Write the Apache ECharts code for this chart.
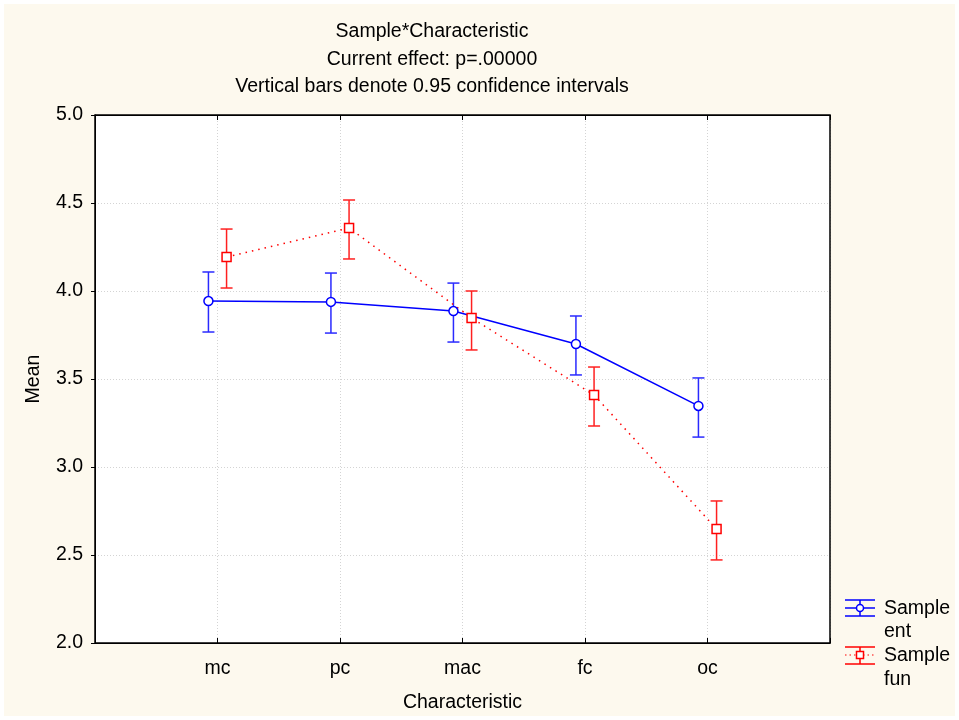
<!DOCTYPE html>
<html>
<head>
<meta charset="utf-8">
<script src="https://cdn.jsdelivr.net/npm/echarts@6/dist/echarts.min.js"></script>
<style>
  html, body { margin: 0; padding: 0; background: #ffffff; }
  #chart { width: 959px; height: 720px; }
</style>
</head>
<body>
<div id="chart"></div>
<script>
// categories on the x axis
const categories = ['mc', 'pc', 'mac', 'fc', 'oc'];
const yTicks = [2.0, 2.5, 3.0, 3.5, 4.0, 4.5, 5.0];

// Sample ent
const entMean = [3.943, 3.938, 3.886, 3.699, 3.347];
const entLow  = [3.767, 3.761, 3.710, 3.523, 3.170];
const entHigh = [4.108, 4.102, 4.045, 3.858, 3.506];

// Sample fun
const funMean = [4.193, 4.358, 3.847, 3.409, 2.648];
const funLow  = [4.017, 4.182, 3.665, 3.233, 2.472];
const funHigh = [4.352, 4.517, 4.000, 3.568, 2.807];

const shift = 0.074; // small horizontal dodge between the two samples

const font = 'Liberation Sans, Arial, sans-serif';
const fs = 19.5;

function pts(mean, dx) {
  return mean.map((v, i) => [i + 1 + dx, v]);
}
function bars(low, high, dx) {
  return low.map((v, i) => [i + 1 + dx, v, high[i]]);
}

function errorBar(color) {
  return function (params, api) {
    const x = api.value(0);
    const lo = api.coord([x, api.value(1)]);
    const hi = api.coord([x, api.value(2)]);
    const w = 6;
    const st = { stroke: color, lineWidth: 1.5 };
    return {
      type: 'group',
      children: [
        { type: 'line', shape: { x1: lo[0], y1: lo[1], x2: hi[0], y2: hi[1] }, style: st },
        { type: 'line', shape: { x1: lo[0] - w, y1: lo[1], x2: lo[0] + w, y2: lo[1] }, style: st },
        { type: 'line', shape: { x1: hi[0] - w, y1: hi[1], x2: hi[0] + w, y2: hi[1] }, style: st }
      ]
    };
  };
}

const txt = (x, y, s) => ({ type: 'text', style: { x: x, y: y, text: s, font: fs + 'px ' + font, fill: '#000', verticalAlign: 'middle' } });

let myChart = echarts.init(document.getElementById('chart'));
let option = {
  backgroundColor: '#ffffff',
  animation: false,
  graphic: [
    { type: 'rect', z: -10, shape: { x: 4, y: 4, width: 951, height: 712 }, style: { fill: '#fdf9ee' } },
    { type: 'rect', z: -9, shape: { x: 95, y: 115, width: 735, height: 528 }, style: { fill: '#ffffff' } },
    { type: 'rect', z: 50, shape: { x: 95, y: 115, width: 735, height: 528 }, style: { fill: null, stroke: '#000', lineWidth: 1.5 } },
    // legend: Sample ent
    { type: 'line', shape: { x1: 845, y1: 600, x2: 875, y2: 600 }, style: { stroke: '#0000ff', lineWidth: 1.5 } },
    { type: 'line', shape: { x1: 845, y1: 608, x2: 875, y2: 608 }, style: { stroke: '#0000ff', lineWidth: 1.5 } },
    { type: 'line', shape: { x1: 845, y1: 616, x2: 875, y2: 616 }, style: { stroke: '#0000ff', lineWidth: 1.5 } },
    { type: 'line', shape: { x1: 860, y1: 600, x2: 860, y2: 616 }, style: { stroke: '#0000ff', lineWidth: 1.5 } },
    { type: 'circle', shape: { cx: 860, cy: 608, r: 3.5 }, style: { fill: '#ffffff', stroke: '#0000ff', lineWidth: 1.5 } },
    txt(884, 609, 'Sample'),
    txt(884, 632, 'ent'),
    // legend: Sample fun
    { type: 'line', shape: { x1: 845, y1: 647, x2: 875, y2: 647 }, style: { stroke: '#ff0000', lineWidth: 1.5 } },
    { type: 'line', shape: { x1: 845, y1: 655, x2: 875, y2: 655 }, style: { stroke: '#ff0000', lineWidth: 1.2, lineDash: [1.5, 3] } },
    { type: 'line', shape: { x1: 845, y1: 664, x2: 875, y2: 664 }, style: { stroke: '#ff0000', lineWidth: 1.5 } },
    { type: 'line', shape: { x1: 860, y1: 647, x2: 860, y2: 664 }, style: { stroke: '#ff0000', lineWidth: 1.5 } },
    { type: 'rect', shape: { x: 856.5, y: 651.5, width: 7, height: 7 }, style: { fill: '#ffffff', stroke: '#ff0000', lineWidth: 1.5 } },
    txt(884, 656, 'Sample'),
    txt(884, 680, 'fun')
  ],
  title: {
    text: 'Sample*Characteristic\nCurrent effect: p=.00000\nVertical bars denote 0.95 confidence intervals',
    left: 427,
    top: 13,
    textAlign: 'center',
    textStyle: { fontFamily: font, fontSize: fs, fontWeight: 'normal', color: '#000', lineHeight: 27.5 }
  },
  grid: { left: 95, right: 129, top: 115, bottom: 77, show: false, outerBoundsMode: 'none', containLabel: false },
  xAxis: [
    {
      type: 'value',
      min: 0,
      max: 6,
      interval: 1,
      name: 'Characteristic',
      nameLocation: 'middle',
      nameGap: 50,
      nameTextStyle: { fontFamily: font, fontSize: fs, color: '#000' },
      axisLine: { lineStyle: { color: '#000' } },
      axisTick: { show: true, inside: true, length: 5, lineStyle: { color: '#000' } },
      axisLabel: {
        fontFamily: font, fontSize: fs, color: '#000', margin: 16,
        formatter: v => categories[v - 1] || ''
      },
      splitLine: { show: true, lineStyle: { color: '#d4d4d4', type: [1, 2] } }
    },
    {
      type: 'value',
      position: 'top',
      min: 0,
      max: 6,
      interval: 1,
      axisLine: { show: true, lineStyle: { color: '#000' } },
      axisTick: { show: true, inside: true, length: 5, lineStyle: { color: '#000' } },
      axisLabel: { show: false },
      splitLine: { show: false }
    }
  ],
  yAxis: {
    type: 'value',
    min: 2,
    max: 5,
    interval: 0.5,
    name: 'Mean',
    nameLocation: 'middle',
    nameGap: 51,
    nameTextStyle: { fontFamily: font, fontSize: fs, color: '#000' },
    axisLine: { show: true, lineStyle: { color: '#000' } },
    axisTick: { show: true, length: 4, lineStyle: { color: '#000' } },
    axisLabel: {
      fontFamily: font, fontSize: fs, color: '#000', margin: 12,
      formatter: v => (yTicks.indexOf(v) >= 0 ? v.toFixed(1) : '')
    },
    splitLine: { show: true, lineStyle: { color: '#d4d4d4', type: [1, 2] } }
  },
  series: [
    {
      name: 'Sample ent',
      type: 'line',
      data: pts(entMean, -shift),
      lineStyle: { color: '#0000ff', width: 1.5 },
      symbol: 'circle',
      symbolSize: 9,
      itemStyle: { color: '#ffffff', borderColor: '#0000ff', borderWidth: 1.5 },
      z: 5
    },
    {
      name: 'Sample fun',
      type: 'line',
      data: pts(funMean, shift),
      lineStyle: { color: '#ff0000', width: 1.5, type: [1.5, 5] },
      symbol: 'rect',
      symbolSize: 9,
      itemStyle: { color: '#ffffff', borderColor: '#ff0000', borderWidth: 1.5 },
      z: 5
    },
    {
      type: 'custom',
      renderItem: errorBar('#2a2aff'),
      data: bars(entLow, entHigh, -shift),
      encode: { x: 0, y: [1, 2] },
      z: 3
    },
    {
      type: 'custom',
      renderItem: errorBar('#ff2020'),
      data: bars(funLow, funHigh, shift),
      encode: { x: 0, y: [1, 2] },
      z: 3
    }
  ]
};
option && myChart.setOption(option);
</script>
</body>
</html>
